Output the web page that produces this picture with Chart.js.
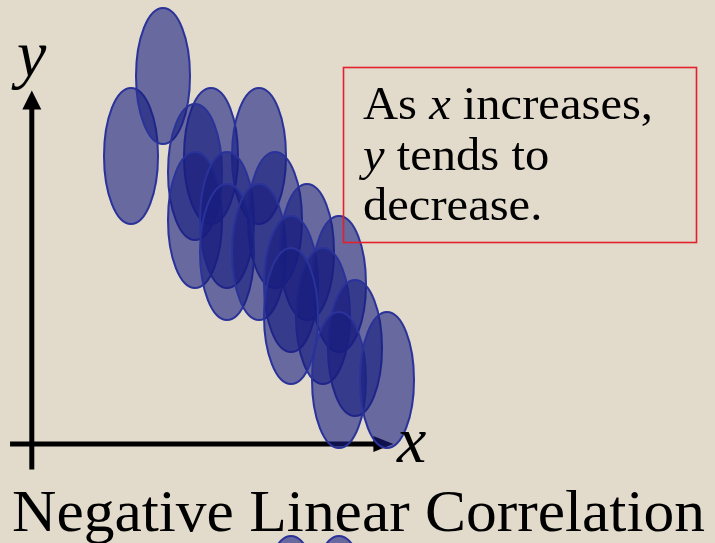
<!DOCTYPE html>
<html>
<head>
<meta charset="utf-8">
<title>Negative Linear Correlation</title>
<script src="https://cdn.jsdelivr.net/npm/chart.js@4/dist/chart.umd.min.js"></script>
<style>
  html, body { margin: 0; padding: 0; background: #e2dbcc; overflow: hidden; }
  canvas { display: block; }
</style>
</head>
<body>
<canvas id="corr" width="715" height="543"></canvas>
<script>
// scatter values (x, y), one tall oval per observation
const xValues = [3, 4, 5.5, 7, 5, 5, 6, 7.5, 6, 7, 8.5, 8, 9.5, 9, 8, 10, 9.5, 11, 8, 9.5];
const yValues = [9, 11.5, 9, 9, 8.5, 7, 7, 7, 6, 6, 6, 5, 5, 4, 4, 3, 2, 2, -5, -5];

const titleText = 'Negative Linear Correlation';
const noteLines = [
    [['As ', false], ['x', true], [' increases,', false]],
    [['y', true], [' tends to', false]],
    [['decrease.', false]]
];

const SERIF = '"Liberation Serif", "DejaVu Serif", serif';

// tall semi-transparent oval used as the point style
function ovalMarker() {
    const c = document.createElement('canvas');
    c.width = 60;
    c.height = 142;
    const g = c.getContext('2d');
    g.beginPath();
    g.ellipse(30, 71, 27, 68, 0, 0, Math.PI * 2);
    g.fillStyle = 'rgba(24, 28, 126, 0.6)';
    g.fill();
    g.lineWidth = 2;
    g.strokeStyle = '#2a3399';
    g.stroke();
    return c;
}

const paperBg = {
    id: 'paperBg',
    beforeDraw(chart) {
        const ctx = chart.ctx;
        ctx.save();
        ctx.fillStyle = '#e2dbcc';
        ctx.fillRect(0, 0, chart.width, chart.height);
        ctx.restore();
    }
};

// black arrows for the two axes, drawn under the ovals
const arrowAxes = {
    id: 'arrowAxes',
    beforeDatasetsDraw(chart) {
        const { ctx, scales: { x, y } } = chart;
        const x0 = x.getPixelForValue(-0.1);
        const y0 = y.getPixelForValue(0);
        const xEnd = x.getPixelForValue(11.2);
        const yEnd = y.getPixelForValue(11.05);
        ctx.save();
        ctx.fillStyle = '#000';
        ctx.strokeStyle = '#000';
        ctx.lineWidth = 5;
        ctx.beginPath();
        ctx.moveTo(x.getPixelForValue(-0.78), y0);
        ctx.lineTo(xEnd - 14, y0);
        ctx.moveTo(x0, y.getPixelForValue(-0.8));
        ctx.lineTo(x0, yEnd + 14);
        ctx.stroke();
        ctx.beginPath();
        ctx.moveTo(xEnd, y0);
        ctx.lineTo(xEnd - 20, y0 - 8);
        ctx.lineTo(xEnd - 20, y0 + 8);
        ctx.closePath();
        ctx.fill();
        ctx.beginPath();
        ctx.moveTo(x0, yEnd);
        ctx.lineTo(x0 - 9.5, yEnd + 19);
        ctx.lineTo(x0 + 9.5, yEnd + 19);
        ctx.closePath();
        ctx.fill();
        ctx.restore();
    }
};

function runFont(italic, size) {
    return (italic ? 'italic ' : '') + size + 'px ' + SERIF;
}

function drawRuns(ctx, runs, left, base, size, sx) {
    ctx.save();
    ctx.translate(left, base);
    ctx.scale(sx, 1);
    let pos = 0;
    runs.forEach(([txt, italic]) => {
        ctx.font = runFont(italic, size);
        ctx.fillText(txt, pos, 0);
        pos += ctx.measureText(txt).width;
    });
    ctx.restore();
}

function runsWidth(ctx, runs, size) {
    let w = 0;
    runs.forEach(([txt, italic]) => {
        ctx.font = runFont(italic, size);
        w += ctx.measureText(txt).width;
    });
    return w;
}

// note box, axis letters and the caption
const labels = {
    id: 'labels',
    afterDatasetsDraw(chart) {
        const ctx = chart.ctx;
        ctx.save();
        ctx.fillStyle = '#000';
        ctx.textBaseline = 'alphabetic';

        ctx.font = 'italic 66px ' + SERIF;
        ctx.fillText('y', 17, 76);
        ctx.fillText('x', 397, 462);

        ctx.strokeStyle = '#e3202c';
        ctx.lineWidth = 1.6;
        ctx.strokeRect(343.5, 67.5, 353, 175);

        const noteSize = 47;
        const sx = 290 / runsWidth(ctx, noteLines[0], noteSize);
        noteLines.forEach((runs, i) => {
            drawRuns(ctx, runs, 363, 119 + i * 50.5, noteSize, sx);
        });

        const titleSize = 60;
        ctx.font = titleSize + 'px ' + SERIF;
        const tw = ctx.measureText(titleText).width;
        drawRuns(ctx, [[titleText, false]], 12, 531, titleSize, 693 / tw);
        ctx.restore();
    }
};

new Chart(document.getElementById('corr'), {
    type: 'scatter',
    data: {
        datasets: [{
            data: xValues.map((v, i) => ({ x: v, y: yValues[i] })),
            pointStyle: ovalMarker(),
            pointRadius: 70,
            clip: false
        }]
    },
    options: {
        responsive: false,
        animation: false,
        events: [],
        layout: { padding: 0, autoPadding: false },
        plugins: {
            legend: { display: false },
            tooltip: { enabled: false }
        },
        scales: {
            // 32 px per unit on both axes
            x: { type: 'linear', display: false, min: -1.09375, max: 21.25 },
            y: { type: 'linear', display: false, min: -3.09375, max: 13.875 }
        }
    },
    plugins: [paperBg, arrowAxes, labels]
});
</script>
</body>
</html>
